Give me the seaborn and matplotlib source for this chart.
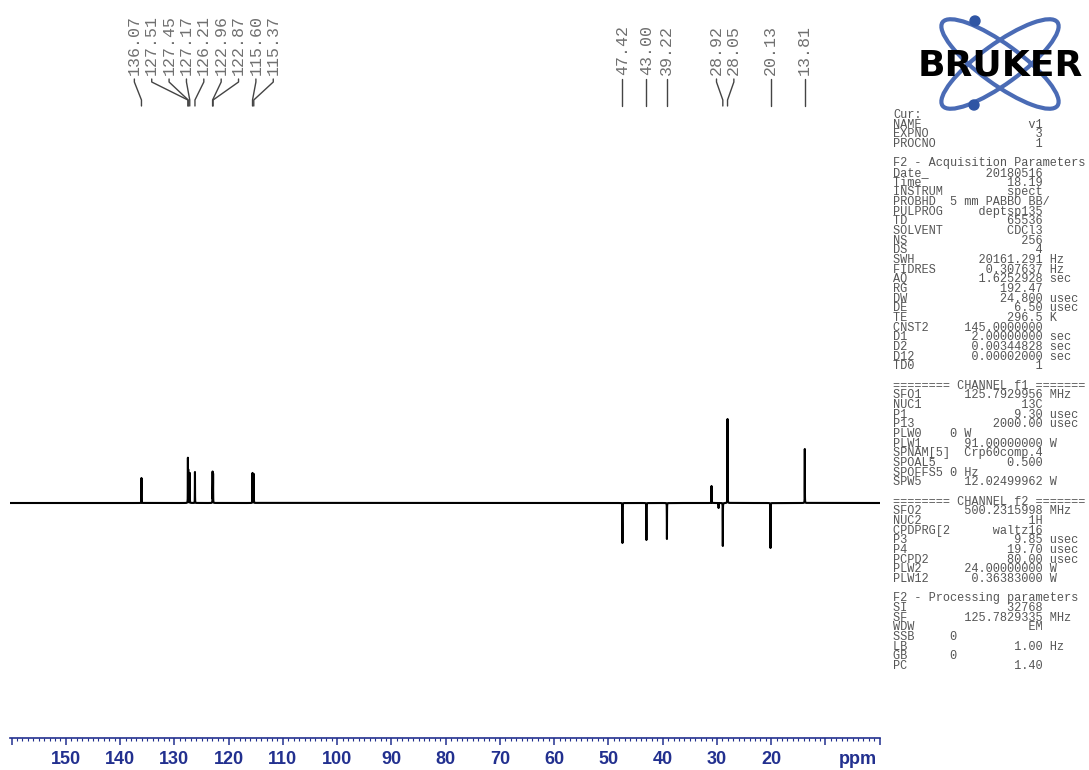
import numpy as np
import pandas as pd
import matplotlib
matplotlib.use("Agg")
import matplotlib.pyplot as plt
from matplotlib.patches import Ellipse, Circle
from matplotlib.ticker import MultipleLocator
from matplotlib.font_manager import FontProperties
import seaborn as sns

# labelled peaks (ppm) and heights (positive = CH / CH3, negative = CH2)
peak_ppm = [136.07, 127.51, 127.45, 127.17, 126.21, 122.96, 122.87, 115.60, 115.37,
            47.42, 43.00, 39.22, 28.92, 28.05, 20.13, 13.81]
peak_int = [25, 44, 32, 30, 31, 31, 29, 30, 29,
            -40, -37, -36, -43, 84, -45, 54]

# small signals without a label
extra_ppm = [31.0, 29.7]
extra_int = [17, -5]

# x axis
tick_values = list(range(0, 161, 10))
tick_text = [str(v) if 20 <= v <= 150 else "" for v in tick_values]

# parameter block on the right
head_rows = [("Cur:", "", ""), ("NAME", "v1", ""), ("EXPNO", "3", ""), ("PROCNO", "1", "")]
acq_rows = [
    ("Date_", "20180516", ""), ("Time", "18.19", ""), ("INSTRUM", "spect", ""),
    ("PROBHD", "5 mm PABBO BB/", ""), ("PULPROG", "deptsp135", ""), ("TD", "65536", ""),
    ("SOLVENT", "CDCl3", ""), ("NS", "256", ""), ("DS", "4", ""),
    ("SWH", "20161.291", "Hz"), ("FIDRES", "0.307637", "Hz"), ("AQ", "1.6252928", "sec"),
    ("RG", "192.47", ""), ("DW", "24.800", "usec"), ("DE", "6.50", "usec"),
    ("TE", "296.5", "K"), ("CNST2", "145.0000000", ""), ("D1", "2.00000000", "sec"),
    ("D2", "0.00344828", "sec"), ("D12", "0.00002000", "sec"), ("TD0", "1", ""),
]
f1_rows = [
    ("SFO1", "125.7929956", "MHz"), ("NUC1", "13C", ""), ("P1", "9.30", "usec"),
    ("P13", "2000.00", "usec"), ("PLW0", "0 W", ""), ("PLW1", "91.00000000", "W"),
    ("SPNAM[5]", "Crp60comp.4", ""), ("SPOAL5", "0.500", ""), ("SPOFFS5", "0 Hz", ""),
    ("SPW5", "12.02499962", "W"),
]
f2_rows = [
    ("SFO2", "500.2315998", "MHz"), ("NUC2", "1H", ""), ("CPDPRG[2", "waltz16", ""),
    ("P3", "9.85", "usec"), ("P4", "19.70", "usec"), ("PCPD2", "80.00", "usec"),
    ("PLW2", "24.00000000", "W"), ("PLW12", "0.36383000", "W"),
]
proc_rows = [
    ("SI", "32768", ""), ("SF", "125.7829335", "MHz"), ("WDW", "EM", ""),
    ("SSB", "0", ""), ("LB", "1.00", "Hz"), ("GB", "0", ""), ("PC", "1.40", ""),
]
left_aligned = {"PLW0", "SPOFFS5", "SSB", "GB", "PROBHD"}

W, H = 1089, 770
NAVY = "#22308f"
PANEL_GREY = "#555555"


def spread_labels(ppms, gap):
    # push labels apart so they keep at least `gap` ppm between them
    pos = [-p for p in ppms]
    clusters = [[i] for i in range(len(pos))]
    changed = True
    while changed:
        changed = False
        merged = []
        for c in clusters:
            if merged:
                prev = merged[-1]
                prev_right = np.mean([pos[i] for i in prev]) + (len(prev) - 1) * gap / 2
                cur_left = np.mean([pos[i] for i in c]) - (len(c) - 1) * gap / 2
                if cur_left - prev_right < gap:
                    merged[-1] = prev + c
                    changed = True
                    continue
            merged.append(c)
        clusters = merged
    out = [0.0] * len(pos)
    for c in clusters:
        centre = np.mean([pos[i] for i in c])
        for k, i in enumerate(c):
            out[i] = -(centre + (k - (len(c) - 1) / 2) * gap)
    return out


def fmt_row(name, value, unit):
    if name in left_aligned:
        return f"{name:<8}{value}"
    return f"{name:<9}{value:>12} {unit}".rstrip()


# build the spectrum from the peak list (narrow lorentzians)
all_ppm = peak_ppm + extra_ppm
all_int = peak_int + extra_int
grid = np.union1d(np.arange(-0.05, 160.3, 0.004), all_ppm)
hw = 0.012
spec = np.zeros_like(grid)
for p, h in zip(all_ppm, all_int):
    spec += h * hw ** 2 / ((grid - p) ** 2 + hw ** 2)
df = pd.DataFrame({"ppm": grid, "intensity": spec})

sns.set_style("white")
plt.rcParams["font.family"] = ["DejaVu Sans"]

fig = plt.figure(figsize=(W / 100, H / 100), dpi=100)
ax = fig.add_axes([10 / W, (H - 738) / H, 870 / W, 738 / H])
sns.lineplot(data=df, x="ppm", y="intensity", color="black", linewidth=1.5,
             estimator=None, sort=False, ax=ax)
ax.set_xlim(160.3, -0.05)
ax.set_ylim(-235, 503)
ax.set_xlabel("")
ax.set_ylabel("")
ax.set_yticks([])
for s in ["top", "left", "right"]:
    ax.spines[s].set_visible(False)
ax.spines["bottom"].set_color(NAVY)
ax.spines["bottom"].set_linewidth(1.2)
ax.set_xticks(tick_values)
ax.set_xticklabels(tick_text)
ax.xaxis.set_minor_locator(MultipleLocator(1))
ax.tick_params(axis="x", which="major", direction="out", length=5, width=1.1,
               colors=NAVY, labelsize=13, pad=4, bottom=True)
ax.tick_params(axis="x", which="minor", direction="out", length=2.5, width=0.8,
               color=NAVY, bottom=True)
for lbl in ax.get_xticklabels():
    lbl.set_fontweight("bold")
    lbl.set_family("Liberation Sans")

# peak labels with leader lines
lab_ppm = spread_labels(peak_ppm, 3.2)
for p, lp in zip(peak_ppm, lab_ppm):
    ax.text(lp, 503 - 75, f"{p:.2f}", rotation=90, ha="center", va="bottom",
            fontsize=12, family="Liberation Mono", color="#707070")
    ax.plot([lp, lp, p, p], [503 - 79, 503 - 82, 503 - 100, 503 - 106],
            color="#444444", linewidth=1)

# overlay in pixel units for the logo and the parameter block
ov = fig.add_axes([0, 0, 1, 1])
ov.set_xlim(0, W)
ov.set_ylim(H, 0)
ov.axis("off")

ov.text(858, 760, "ppm", ha="center", va="center", fontsize=13, fontweight="bold",
        family="Liberation Sans", color=NAVY)

# Bruker logo
ov.add_patch(Ellipse((1000, 64), 142, 40, angle=36, fill=False, edgecolor="#4a6bb5", linewidth=3))
ov.add_patch(Ellipse((1000, 64), 142, 40, angle=-36, fill=False, edgecolor="#4a6bb5", linewidth=3))
ov.add_patch(Circle((975, 21), 5, color="#2f55a4"))
ov.add_patch(Circle((974, 105), 5, color="#2f55a4"))
ov.text(1000, 66, "BRUKER", ha="center", va="center", fontsize=26, fontweight="heavy",
        family="DejaVu Sans", color="black", zorder=5)

# parameter block: one monospaced multi-line text
lines = [fmt_row(*r) for r in head_rows] + [""]
lines += ["F2 - Acquisition Parameters"] + [fmt_row(*r) for r in acq_rows] + [""]
lines += ["======== CHANNEL f1 ======="] + [fmt_row(*r) for r in f1_rows] + [""]
lines += ["======== CHANNEL f2 ======="] + [fmt_row(*r) for r in f2_rows] + [""]
lines += ["F2 - Processing parameters"] + [fmt_row(*r) for r in proc_rows]
block = "\n".join(lines)

pfont = FontProperties(family="Liberation Mono", size=8.6)
renderer = fig.canvas.get_renderer()
_, lp_h, lp_d = renderer.get_text_width_height_descent("lp", pfont, ismath=False)
# empirical correction: the drawn pitch came out larger than lp_h - lp_d
spacing = 9.63 / (lp_h - lp_d) / 1.445
ov.text(893, 115 - lp_h / 2, block, ha="left", va="top", fontproperties=pfont,
        color=PANEL_GREY, linespacing=spacing)

fig.savefig("out.png", dpi=100)
